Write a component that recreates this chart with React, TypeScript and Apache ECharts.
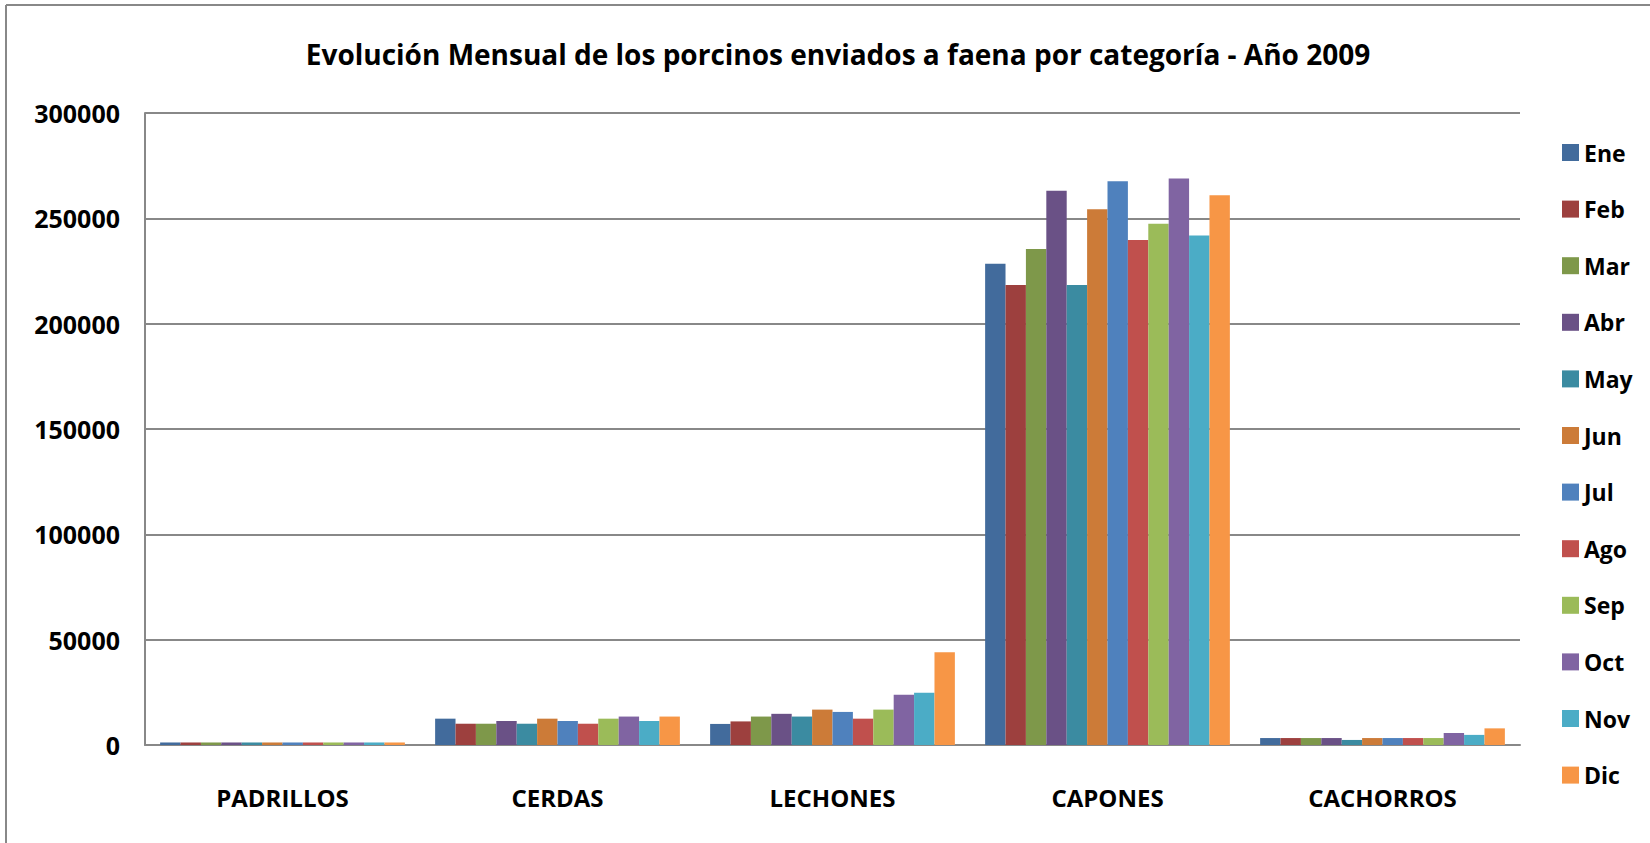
import React, { useEffect, useRef } from "react";
import * as echarts from "echarts";

const categories = ["PADRILLOS", "CERDAS", "LECHONES", "CAPONES", "CACHORROS"];
const months = ["Ene", "Feb", "Mar", "Abr", "May", "Jun", "Jul", "Ago", "Sep", "Oct", "Nov", "Dic"];
const colors = ["#426b9c", "#9d403e", "#7e984a", "#6a5186", "#3b8ba1", "#cc7b38", "#4f81bd", "#c0504d", "#9bbb59", "#8064a2", "#4bacc6", "#f79646"];

// values per month: [PADRILLOS, CERDAS, LECHONES, CAPONES, CACHORROS]
const ene = [1200, 12500, 10000, 228500, 3300];
const feb = [1200, 10100, 11200, 218400, 3300];
const mar = [1200, 10100, 13500, 235400, 3300];
const abr = [1200, 11400, 14800, 263100, 3300];
const may = [1200, 10100, 13500, 218300, 2400];
const jun = [1200, 12500, 16800, 254300, 3300];
const jul = [1200, 11400, 15700, 267600, 3300];
const ago = [1200, 10100, 12500, 239700, 3300];
const sep = [1200, 12500, 16800, 247400, 3300];
const oct = [1200, 13500, 23800, 268900, 5700];
const nov = [1200, 11400, 24800, 241900, 4800];
const dic = [1200, 13500, 44000, 261000, 7900];
const seriesValues = [ene, feb, mar, abr, may, jun, jul, ago, sep, oct, nov, dic];

const yTicks = { min: 0, max: 300000, interval: 50000 };
const titleText = "Evolución Mensual de los porcinos enviados a faena por categoría - Año 2009";

const FONT = "'Open Sans', sans-serif";
const GRAY = "#888888";

export default function App() {
  const ref = useRef<HTMLDivElement>(null);
  useEffect(() => {
    if (!ref.current) return;
    const chart = echarts.init(ref.current, undefined, { renderer: "svg" });
    chart.setOption({
      animation: false,
      backgroundColor: "#ffffff",
      title: {
        text: titleText,
        left: 833,
        textAlign: "center",
        top: 35,
        textStyle: { fontFamily: FONT, fontWeight: "bold", fontSize: 28, color: "#000" },
      },
      legend: months.map((m, i) => ({
        orient: "vertical",
        left: 1562,
        top: 141 + i * 56.6,
        itemWidth: 17,
        itemHeight: 17,
        itemGap: 0,
        padding: 0,
        icon: "rect",
        data: [m],
        textStyle: { fontFamily: FONT, fontWeight: "bold", fontSize: 23, color: "#000" },
      })),
      grid: { left: 145, top: 113, width: 1375, height: 632, containLabel: false },
      xAxis: {
        type: "category",
        data: categories,
        axisLine: { show: true, lineStyle: { color: GRAY, width: 2 } },
        axisTick: { show: false },
        axisLabel: { fontFamily: FONT, fontWeight: "bold", fontSize: 24, color: "#000", margin: 40 },
      },
      yAxis: {
        type: "value",
        min: yTicks.min,
        max: yTicks.max,
        interval: yTicks.interval,
        axisLine: { show: true, lineStyle: { color: GRAY, width: 2 } },
        axisTick: { show: false },
        splitLine: { show: true, lineStyle: { color: GRAY, width: 2 } },
        axisLabel: {
          fontFamily: FONT,
          fontWeight: "bold",
          fontSize: 25,
          color: "#000",
          margin: 25,
          formatter: (v: number) => String(v),
        },
      },
      graphic: [
        { type: "line", shape: { x1: 6, y1: 5, x2: 1650, y2: 5 }, style: { stroke: GRAY, lineWidth: 2 } },
        { type: "line", shape: { x1: 6, y1: 5, x2: 6, y2: 843 }, style: { stroke: GRAY, lineWidth: 2 } },
      ],
      series: months.map((m, i) => ({
        name: m,
        type: "bar",
        data: seriesValues[i],
        barGap: "0%",
        barCategoryGap: "11%",
        itemStyle: { color: colors[i] },
      })),
    });
    return () => chart.dispose();
  }, []);
  return <div ref={ref} style={{ position: "fixed", left: 0, top: 0, width: 1650, height: 843 }} />;
}
